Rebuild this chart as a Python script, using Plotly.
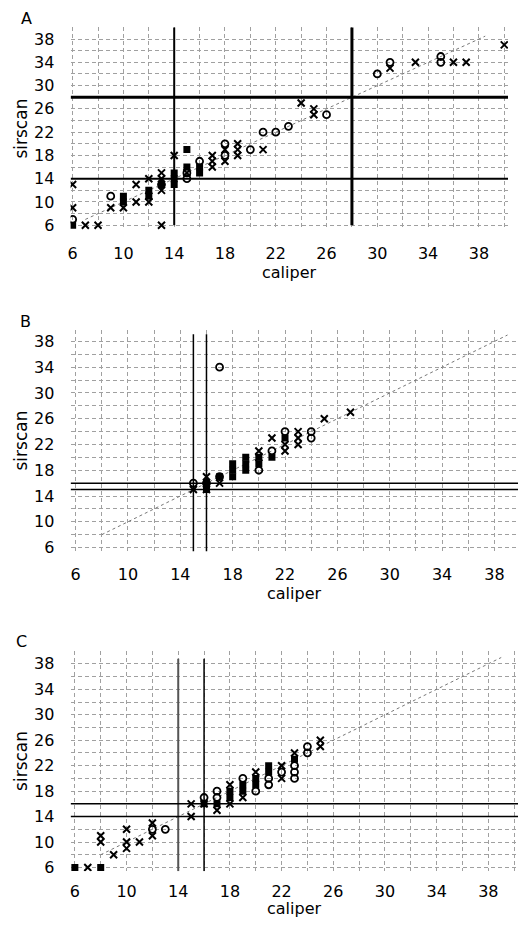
import plotly.graph_objects as go
from plotly.subplots import make_subplots

# ---------------- data ----------------
panel_labels = ["A", "B", "C"]
tick_vals = [6, 10, 14, 18, 22, 26, 30, 34, 38]
tick_text = ["6", "10", "14", "18", "22", "26", "30", "34", "38"]

# Panel A
a_cross_x = [6, 6, 7, 8, 9, 10, 11, 11, 12, 12, 12, 13, 13, 13, 13, 14, 15, 17, 17, 17, 18, 18, 19, 19, 19, 21, 24, 25, 25, 31, 33, 36, 37, 40]
a_cross_y = [13, 9, 6, 6, 9, 9, 13, 10, 14, 11, 10, 15, 14, 12, 6, 18, 15, 18, 17, 16, 19, 17, 20, 19, 18, 19, 27, 26, 25, 33, 34, 34, 34, 37]
a_open_x = [6, 9, 13, 15, 15, 16, 18, 18, 20, 21, 22, 23, 26, 30, 31, 35, 35]
a_open_y = [7, 11, 13, 15, 14, 17, 20, 18, 19, 22, 22, 23, 25, 32, 34, 35, 34]
a_fill_x = [6, 10, 10, 12, 12, 13, 14, 14, 14, 15, 15, 16, 16]
a_fill_y = [6, 11, 10, 12, 11, 13, 15, 14, 13, 19, 16, 16, 15]
a_vlines = [14, 28]
a_hlines = [14, 28]
a_line_widths = [2, 3]

# Panel B
b_cross_x = [15, 16, 16, 17, 20, 20, 21, 22, 22, 23, 23, 23, 25, 27]
b_cross_y = [15, 17, 15, 16, 21, 20, 23, 22, 21, 24, 23, 22, 26, 27]
b_open_x = [15, 16, 17, 17, 20, 21, 22, 24, 24]
b_open_y = [16, 16, 17, 34, 18, 21, 24, 24, 23]
b_fill_x = [16, 16, 17, 18, 18, 18, 19, 19, 19, 20, 20, 21, 22]
b_fill_y = [16, 15, 17, 19, 18, 17, 20, 19, 18, 20, 19, 20, 23]
b_vlines = [15, 16]
b_hlines = [15, 16]

# Panel C
c_cross_x = [7, 8, 8, 9, 10, 10, 10, 11, 12, 12, 15, 15, 16, 17, 18, 18, 19, 20, 22, 22, 23, 25, 25]
c_cross_y = [6, 11, 10, 8, 12, 10, 9, 10, 13, 11, 16, 14, 16, 15, 19, 16, 17, 21, 22, 20, 24, 26, 25]
c_open_x = [12, 13, 16, 17, 17, 19, 20, 21, 21, 22, 23, 23, 23, 24, 24]
c_open_y = [12, 12, 17, 18, 17, 20, 18, 20, 19, 21, 22, 21, 20, 25, 24]
c_fill_x = [6, 8, 16, 17, 18, 18, 19, 19, 20, 20, 21, 21, 23]
c_fill_y = [6, 6, 16, 16, 18, 17, 19, 18, 20, 19, 22, 21, 23]
c_vlines = [14, 16]
c_hlines = [14, 16]

# diagonal y = x extents per panel
diag_ranges = [(7, 38.5), (8, 39), (8, 39)]

# ---------------- layout geometry (pixels) ----------------
W, H = 520, 925
# [left, right, top, bottom] of each plot area in px
boxes = [(68, 508, 27, 232), (68, 518, 332, 555), (68, 518, 655, 877)]
xranges = [(5.84, 40.3), (5.62, 39.8), (5.67, 40.3)]
yranges = [(5.1, 40.1), (5.4, 39.8), (5.4, 40.06)]
title_gap = [42, 42, 37]
x_ticklen = [8, 8, 5]

fig = make_subplots(rows=3, cols=1)

FONT = "DejaVu Sans, Verdana, sans-serif"
GRID = "#a0a0a0"

def add_points(row, cx, cy, ox, oy, fx, fy):
    fig.add_trace(go.Scatter(x=cx, y=cy, mode="markers",
                             marker=dict(symbol="x-thin-open", size=7, color="black",
                                         line=dict(width=2, color="black")),
                             showlegend=False, hoverinfo="x+y"), row=row, col=1)
    fig.add_trace(go.Scatter(x=ox, y=oy, mode="markers",
                             marker=dict(symbol="circle-open", size=7, color="black",
                                         line=dict(width=1.8, color="black")),
                             showlegend=False, hoverinfo="x+y"), row=row, col=1)
    fig.add_trace(go.Scatter(x=fx, y=fy, mode="markers",
                             marker=dict(symbol="square", size=7, color="black"),
                             showlegend=False, hoverinfo="x+y"), row=row, col=1)

def add_diag(row, lo, hi):
    fig.add_trace(go.Scatter(x=[lo, hi], y=[lo, hi], mode="lines",
                             line=dict(color="#777777", width=1, dash="3px,3px"),
                             showlegend=False, hoverinfo="skip"), row=row, col=1)

def add_vline(row, xv, y0, y1, width, color="black"):
    fig.add_trace(go.Scatter(x=[xv, xv], y=[y0, y1], mode="lines",
                             line=dict(color=color, width=width),
                             showlegend=False, hoverinfo="skip"), row=row, col=1)

def add_hline(row, yv, x0, x1, width, color="black"):
    fig.add_trace(go.Scatter(x=[x0, x1], y=[yv, yv], mode="lines",
                             line=dict(color=color, width=width),
                             showlegend=False, hoverinfo="skip"), row=row, col=1)

# Panel A
add_diag(1, *diag_ranges[0])
for v, w in zip(a_vlines, a_line_widths):
    add_vline(1, v, 6, 40, w)
for h, w in zip(a_hlines, a_line_widths):
    add_hline(1, h, xranges[0][0], xranges[0][1], w)
add_points(1, a_cross_x, a_cross_y, a_open_x, a_open_y, a_fill_x, a_fill_y)

# Panel B
add_diag(2, *diag_ranges[1])
for v in b_vlines:
    add_vline(2, v, 5.4, 39.1, 1.5)
for h in b_hlines:
    add_hline(2, h, xranges[1][0], xranges[1][1], 1.5)
add_points(2, b_cross_x, b_cross_y, b_open_x, b_open_y, b_fill_x, b_fill_y)

# Panel C
add_diag(3, *diag_ranges[2])
add_vline(3, c_vlines[0], 5.4, 38.8, 2, "#555555")
add_vline(3, c_vlines[1], 5.4, 38.8, 1.5)
for h in c_hlines:
    add_hline(3, h, xranges[2][0], xranges[2][1], 1.5)
add_points(3, c_cross_x, c_cross_y, c_open_x, c_open_y, c_fill_x, c_fill_y)

annotations = []
for i, (l, r, t, b) in enumerate(boxes):
    n = "" if i == 0 else str(i + 1)
    xd = [l / W, r / W]
    yd = [1 - b / H, 1 - t / H]
    common = dict(
        tickmode="array", tickvals=tick_vals, ticktext=tick_text,
        tickfont=dict(family=FONT, size=16, color="black"),
        showgrid=True, gridcolor=GRID, gridwidth=1, griddash="4px,3px",
        minor=dict(dtick=2, tick0=6, showgrid=True, gridcolor=GRID, gridwidth=1,
                   griddash="4px,3px", ticks=""),
        zeroline=False, showline=False,
        ticks="outside", tickcolor="rgba(0,0,0,0)",
    )
    fig.layout["xaxis" + n].update(domain=xd, range=list(xranges[i]), ticklen=x_ticklen[i], **common)
    fig.layout["yaxis" + n].update(domain=yd, range=list(yranges[i]), ticklen=12, **common)
    # axis titles
    annotations.append(dict(text="caliper", xref="paper", yref="paper",
                            x=(l + r) / 2 / W, y=1 - (b + title_gap[i]) / H,
                            xanchor="center", yanchor="middle", showarrow=False,
                            font=dict(family=FONT, size=16, color="black")))
    annotations.append(dict(text="sirscan", xref="paper", yref="paper",
                            x=18 / W, y=1 - (t + b) / 2 / H, textangle=-90,
                            xanchor="center", yanchor="middle", showarrow=False,
                            font=dict(family=FONT, size=17, color="black")))

label_pos = [(24, 19), (23, 324), (19, 646)]
for lab, (px, py) in zip(panel_labels, label_pos):
    annotations.append(dict(text=lab, xref="paper", yref="paper",
                            x=px / W, y=1 - py / H, xanchor="center", yanchor="middle",
                            showarrow=False,
                            font=dict(family=FONT, size=16, color="black")))

fig.update_layout(width=W, height=H, margin=dict(l=0, r=0, t=0, b=0),
                  paper_bgcolor="white", plot_bgcolor="white",
                  annotations=annotations, showlegend=False)

fig.write_html("out.html", config={"displayModeBar": False},
               post_script="document.body.style.margin='0';document.body.style.overflow='hidden';")
